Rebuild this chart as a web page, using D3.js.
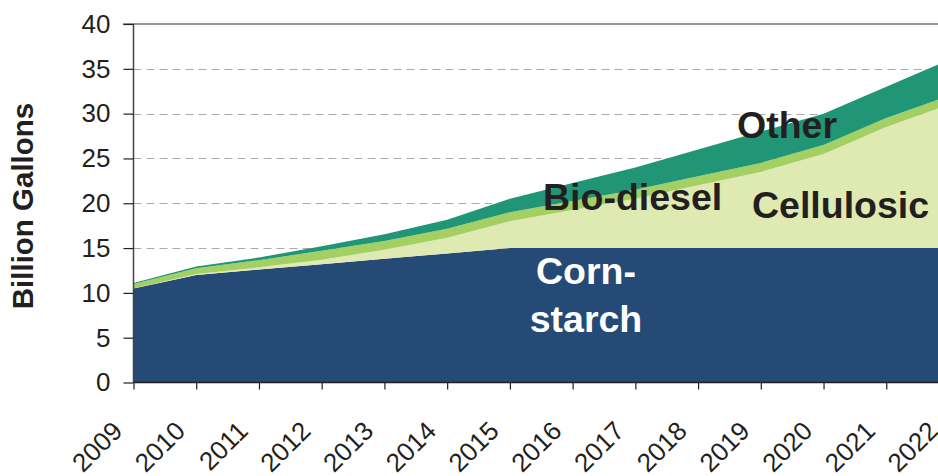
<!DOCTYPE html>
<html>
<head>
<meta charset="utf-8">
<script src="https://cdn.jsdelivr.net/npm/d3@7"></script>
<style>
  html, body { margin: 0; padding: 0; background: #ffffff; overflow: hidden; }
  svg { display: block; font-family: "Liberation Sans", Arial, sans-serif; }
</style>
</head>
<body>
<svg id="chart" width="938" height="476"></svg>
<script>
// ---- data ----
const years = [2009, 2010, 2011, 2012, 2013, 2014, 2015, 2016, 2017, 2018, 2019, 2020, 2021, 2022];
const cornStarch = [10.5, 12.0, 12.6, 13.2, 13.8, 14.4, 15, 15, 15, 15, 15, 15, 15, 15];
const cellulosic = [0, 0.1, 0.25, 0.5, 1.0, 1.75, 3.0, 4.25, 5.5, 7.0, 8.5, 10.5, 13.5, 16.0];
const bioDiesel = [0.5, 0.65, 0.8, 1.0, 1.0, 1.0, 1.0, 1.0, 1.0, 1.0, 1.0, 1.0, 1.0, 1.0];
const other = [0.1, 0.2, 0.3, 0.5, 0.75, 1.0, 1.5, 2.0, 2.5, 3.0, 3.5, 3.5, 3.5, 4.0];
const seriesKeys = ["Corn-starch", "Cellulosic", "Bio-diesel", "Other"];
const yTicks = [0, 5, 10, 15, 20, 25, 30, 35, 40];
const yTitle = "Billion Gallons";

const colors = {
  "Corn-starch": "#254a76",
  "Cellulosic": "#dfeab2",
  "Bio-diesel": "#a4cf62",
  "Other": "#219677"
};

const rows = years.map((yr, i) => ({
  year: yr,
  "Corn-starch": cornStarch[i],
  "Cellulosic": cellulosic[i],
  "Bio-diesel": bioDiesel[i],
  "Other": other[i]
}));

const svg = d3.select("#chart");
const x = d3.scaleLinear().domain([2009, 2022]).range([133.5, 949]);
const y = d3.scaleLinear().domain([0, 40]).range([382.5, 24]);

// gridlines
svg.append("g").selectAll("line")
  .data(yTicks.filter(t => t > 0 && t < 40))
  .join("line")
  .attr("x1", 133.5).attr("x2", 938)
  .attr("y1", d => Math.round(y(d)) + 0.5).attr("y2", d => Math.round(y(d)) + 0.5)
  .attr("stroke", "#b3a9a5").attr("stroke-width", 1)
  .attr("stroke-dasharray", "8,5");

// stacked areas
const stack = d3.stack().keys(seriesKeys);
const layers = stack(rows);
const area = d3.area()
  .x(d => x(d.data.year))
  .y0(d => y(d[0]))
  .y1(d => y(d[1]));

svg.append("g").selectAll("path")
  .data(layers)
  .join("path")
  .attr("d", area)
  .attr("fill", d => colors[d.key]);

// top solid line (40)
svg.append("line")
  .attr("x1", 123).attr("x2", 938)
  .attr("y1", y(40)).attr("y2", y(40))
  .attr("stroke", "#a1968f").attr("stroke-width", 2);

// y axis
const yAxis = d3.axisLeft(y).tickValues(yTicks).tickSize(10).tickPadding(13)
  .tickFormat(d3.format("d"));
const gy = svg.append("g").attr("transform", "translate(133.5,0)").call(yAxis);
gy.select(".domain").attr("stroke", "#4a4242").attr("stroke-width", 1.5)
  .attr("d", "M0," + y(40) + "V" + y(0));
gy.selectAll(".tick line").attr("stroke", "#231f20").attr("stroke-width", 1.2);
gy.selectAll(".tick text")
  .attr("font-size", "26px").attr("fill", "#231f20")
  .attr("font-family", "'Liberation Sans', Arial, sans-serif");

// x axis
const xAxis = d3.axisBottom(x).tickValues(years).tickSize(7).tickFormat(d3.format("d"));
const gx = svg.append("g").attr("transform", "translate(0," + y(0) + ")").call(xAxis);
gx.select(".domain").attr("stroke", "#231f20").attr("stroke-width", 1.5)
  .attr("d", "M133.5,0H949");
gx.selectAll(".tick line").attr("stroke", "#231f20").attr("stroke-width", 1.2);
gx.selectAll(".tick text")
  .attr("font-size", "26px").attr("fill", "#231f20")
  .attr("font-family", "'Liberation Sans', Arial, sans-serif")
  .attr("text-anchor", "end")
  .attr("x", 0).attr("y", 0).attr("dy", 0)
  .attr("transform", "translate(-10,50) rotate(-45)");

// y title
svg.append("text")
  .attr("transform", "translate(33,206) rotate(-90)")
  .attr("text-anchor", "middle")
  .attr("font-size", "29.5px").attr("font-weight", "bold").attr("fill", "#231f20")
  .text(yTitle);

// series annotations
const ann = svg.append("g").attr("font-weight", "bold").attr("font-size", "37.5px");
ann.append("text").attr("x", 586).attr("y", 284).attr("text-anchor", "middle")
  .attr("fill", "#ffffff").text("Corn-");
ann.append("text").attr("x", 586).attr("y", 332).attr("text-anchor", "middle")
  .attr("fill", "#ffffff").text("starch");
ann.append("text").attr("x", 543).attr("y", 210).attr("fill", "#231f20").text("Bio-diesel");
ann.append("text").attr("x", 737).attr("y", 138).attr("fill", "#231f20").text("Other");
ann.append("text").attr("x", 752).attr("y", 218).attr("fill", "#231f20").text("Cellulosic");
</script>
</body>
</html>
